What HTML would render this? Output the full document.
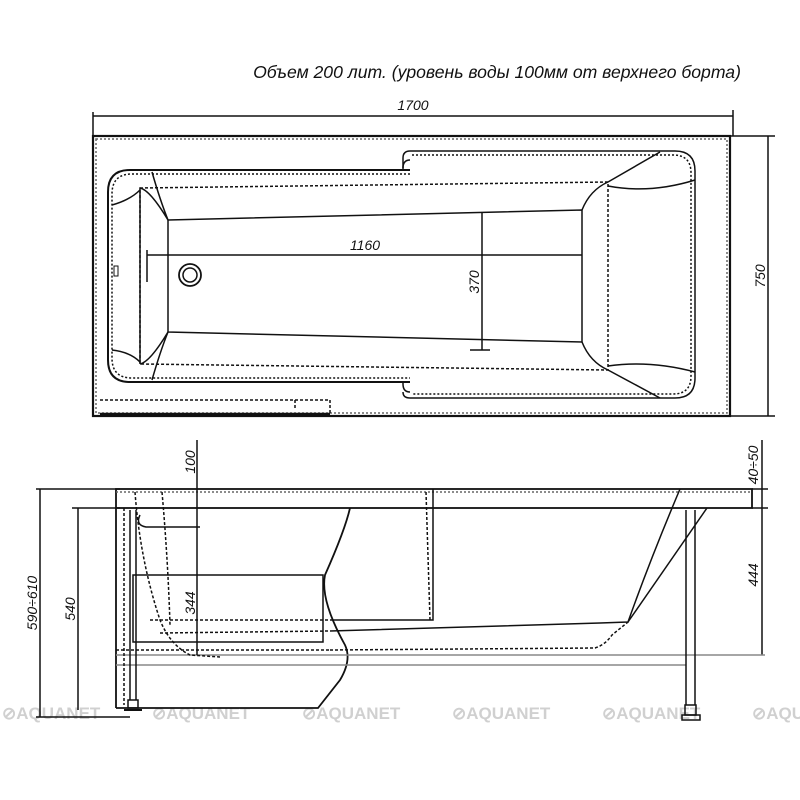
<!DOCTYPE html>
<html><head><meta charset="utf-8"><style>
html,body{margin:0;padding:0;background:#fff;}
svg{display:block;}
text{font-family:"Liberation Sans",sans-serif;font-style:italic;fill:#111;}
.wm{font-style:normal;font-weight:bold;fill:#d0d0d0;font-size:17px;}
</style></head><body>
<svg width="800" height="800" viewBox="0 0 800 800" xmlns="http://www.w3.org/2000/svg">
<text x="497" y="78" font-size="17.6" text-anchor="middle">Объем 200 лит. (уровень воды 100мм от верхнего борта)</text>
<!-- top view -->
<g fill="none" stroke="#111" stroke-width="1.5">
<line x1="93" y1="116" x2="733" y2="116"/>
<line x1="93" y1="112" x2="93" y2="136"/>
<line x1="733" y1="110" x2="733" y2="136"/>
<rect x="93" y="136" width="637" height="280" stroke-width="2.2"/>
<rect x="96" y="139" width="631" height="274" stroke-dasharray="2 2" stroke="#666"/>
<line x1="730" y1="136" x2="775" y2="136"/>
<line x1="730" y1="416" x2="775" y2="416"/>
<line x1="768" y1="136" x2="768" y2="416"/>
<path d="M410 170 H130 Q108 170 108 192 V360 Q108 382 130 382 H410" stroke-width="2"/>
<path d="M410 174 H132 Q112 174 112 194 V358 Q112 378 132 378 H410" stroke-dasharray="2 2"/>
<path d="M410 160 Q403 160 403 168 V170 M410 392 Q403 392 403 384 V382"/>
<path d="M410 151 H675 Q695 151 695 171 V378 Q695 398 675 398 H410 M410 151 Q403 151 403 158 V168 M410 398 Q403 398 403 392"/>
<path d="M412 155 H673 Q691 155 691 173 V376 Q691 394 673 394 H412" stroke-dasharray="2 2"/>
<path d="M140 188 L608 182 V370 L140 364 Z" stroke-dasharray="3 2"/>
<line x1="140" y1="188" x2="140" y2="364"/>
<path d="M168 220 L582 210 V342 L168 332 Z"/>
<path d="M152 172 Q160 200 168 220 M140 188 Q150 190 168 220 M112 205 Q130 200 140 190"/>
<path d="M152 380 Q160 352 168 332 M140 364 Q150 362 168 332 M112 350 Q130 352 140 362"/>
<path d="M660 152 L608 182 M582 210 Q590 190 608 182 M608 186 Q650 194 695 180"/>
<path d="M660 398 L608 370 M582 342 Q590 362 608 370 M608 366 Q650 360 695 372"/>
<circle cx="190" cy="275" r="11" stroke-width="1.8"/>
<circle cx="190" cy="275" r="7"/>
<line x1="147" y1="255" x2="582" y2="255"/>
<line x1="147" y1="250" x2="147" y2="282"/>
<line x1="482" y1="213" x2="482" y2="350"/>
<line x1="470" y1="350" x2="490" y2="350"/>
<path d="M100 400 H330 V415 M295 400 V410" stroke-dasharray="3 2"/>
<line x1="100" y1="414" x2="330" y2="414" stroke-width="2.5"/>
<rect x="114" y="266" width="4" height="10" stroke-width="1"/>
</g>
<text x="413" y="110" font-size="14" text-anchor="middle">1700</text>
<text x="365" y="250" font-size="14" text-anchor="middle">1160</text>
<text transform="translate(479 282) rotate(-90)" font-size="14" text-anchor="middle">370</text>
<text transform="translate(765 276) rotate(-90)" font-size="14" text-anchor="middle">750</text>

<text class="wm" x="2" y="719">⊘AQUANET</text>
<text class="wm" x="152" y="719">⊘AQUANET</text>
<text class="wm" x="302" y="719">⊘AQUANET</text>
<text class="wm" x="452" y="719">⊘AQUANET</text>
<text class="wm" x="602" y="719">⊘AQUANET</text>
<text class="wm" x="752" y="719">⊘AQUANET</text>

<!-- side view -->
<g fill="none" stroke="#111" stroke-width="1.5">
<line x1="36" y1="489" x2="120" y2="489"/>
<line x1="72" y1="508" x2="120" y2="508"/>
<line x1="40" y1="489" x2="40" y2="717"/>
<line x1="78" y1="508" x2="78" y2="710"/>
<line x1="36" y1="717" x2="130" y2="717"/>
<rect x="116" y="489" width="636" height="19" stroke-width="1.8"/>
<line x1="116" y1="492" x2="752" y2="492" stroke-dasharray="2 2" stroke="#666"/>
<line x1="752" y1="489" x2="768" y2="489"/>
<line x1="752" y1="508" x2="768" y2="508"/>
<line x1="762" y1="440" x2="762" y2="655"/>
<line x1="116" y1="508" x2="116" y2="708" stroke-width="1.8"/>
<path d="M116 708 H318 L340 680 Q352 660 345 645 Q320 600 325 575 Q345 530 350 508" stroke-width="1.8"/>
<rect x="133" y="575" width="190" height="67"/>
<path d="M433 489 V620 H330"/>
<path d="M426 492 L430 620" stroke-dasharray="3 2"/>
<path d="M330 631 L600 623 L628 622 Q650 560 680 489"/>
<path d="M628 622 L707 508"/>
<path d="M330 650 L595 648 Q605 645 612 635 L628 622" stroke-dasharray="3 2"/>
<line x1="116" y1="655" x2="765" y2="655" stroke="#888"/>
<line x1="116" y1="665" x2="686" y2="665" stroke="#888"/>
<line x1="116" y1="650" x2="330" y2="650" stroke-dasharray="3 2"/>
<line x1="150" y1="620" x2="330" y2="620" stroke-dasharray="3 2"/>
<line x1="160" y1="633" x2="330" y2="631" stroke-dasharray="3 2"/>
<path d="M135 492 Q140 560 160 620 Q170 645 190 655 L220 657" stroke-dasharray="3 2"/>
<path d="M162 492 Q168 560 170 625" stroke-dasharray="3 2"/>
<path d="M124 508 V705" stroke-dasharray="3 2"/>
<path d="M130 510 V700 M136 510 V700"/>
<rect x="128" y="700" width="10" height="8"/>
<line x1="124" y1="710" x2="142" y2="710" stroke-width="2"/>
<path d="M140 515 Q135 525 146 527 L200 527"/>
<path d="M686 510 V705 M695 510 V705"/>
<rect x="685" y="705" width="11" height="10"/>
<rect x="682" y="715" width="18" height="5"/>
<line x1="197" y1="440" x2="197" y2="655"/>
</g>
<text transform="translate(195 462) rotate(-90)" font-size="14" text-anchor="middle">100</text>
<text transform="translate(195 603) rotate(-90)" font-size="14" text-anchor="middle">344</text>
<text transform="translate(758 575) rotate(-90)" font-size="14" text-anchor="middle">444</text>
<text transform="translate(758 465) rotate(-90)" font-size="14" text-anchor="middle">40÷50</text>
<text transform="translate(37 603) rotate(-90)" font-size="14" text-anchor="middle">590÷610</text>
<text transform="translate(75 609) rotate(-90)" font-size="14" text-anchor="middle">540</text>
</svg>
</body></html>
